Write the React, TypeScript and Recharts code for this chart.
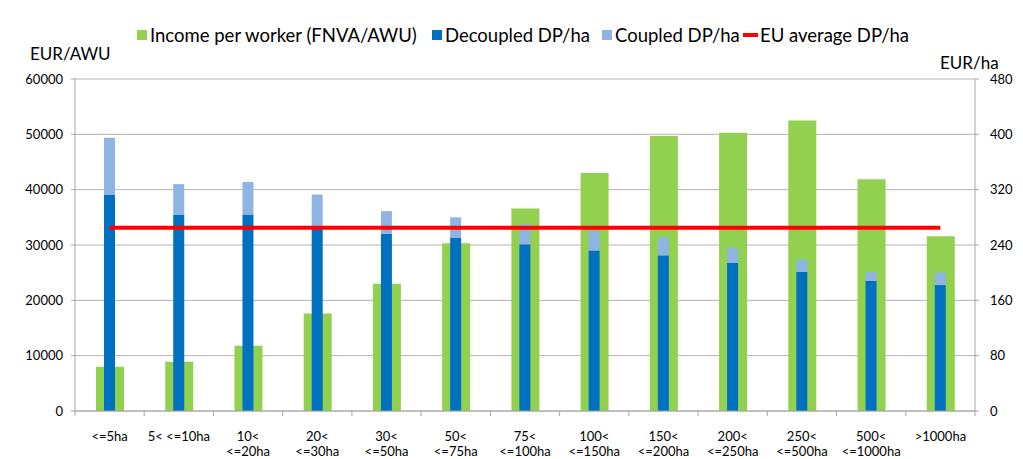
import React from 'react';
import { ComposedChart, Bar, Line, XAxis, YAxis, CartesianGrid } from 'recharts';

const categories = ['<=5ha', '5< <=10ha', '10<\n<=20ha', '20<\n<=30ha', '30<\n<=50ha', '50<\n<=75ha', '75<\n<=100ha', '100<\n<=150ha', '150<\n<=200ha', '200<\n<=250ha', '250<\n<=500ha', '500<\n<=1000ha', '>1000ha'];
const income = [8000, 8900, 11800, 17600, 23000, 30300, 36600, 43000, 49700, 50300, 52500, 41900, 31600];
const decoupled = [313, 284, 284, 263, 256, 251, 241, 232, 225, 214, 201, 188, 182];
const coupled = [82, 44, 47, 50, 33, 29, 29, 28, 26, 22, 18, 13, 18];
const euAverage = [265, 265, 265, 265, 265, 265, 265, 265, 265, 265, 265, 265, 265];
const leftTicks = [0, 10000, 20000, 30000, 40000, 50000, 60000];
const rightTicks = [0, 80, 160, 240, 320, 400, 480];

const legendItems = [
  { label: 'Income per worker (FNVA/AWU)', color: '#92D050', kind: 'box', left: 137 },
  { label: 'Decoupled DP/ha', color: '#0070C0', kind: 'box', left: 432 },
  { label: 'Coupled DP/ha', color: '#8DB4E2', kind: 'box', left: 602 },
  { label: 'EU average DP/ha', color: '#FF0000', kind: 'line', left: 743 },
];

const data = categories.map((c, i) => ({
  cat: c,
  income: income[i],
  decoupled: decoupled[i],
  coupled: coupled[i],
  eu: euAverage[i],
}));

const W = 1023;
const H = 459;
const LEFT_W = 75;
const RIGHT_W = 48;
const TOP = 79;
const XH = 48;
const BAND = (W - LEFT_W - RIGHT_W) / categories.length;
const FONT = 'Lato, "Open Sans", sans-serif';

const XTick = (props: any) => {
  const { x, y, payload, index } = props;
  const lines = String(payload.value).split('\n');
  return (
    <g transform={`translate(${x},${y})`}>
      <line x1={-BAND / 2} y1={0} x2={-BAND / 2} y2={5} stroke="#A6A6A6" />
      {index === categories.length - 1 && (
        <line x1={BAND / 2} y1={0} x2={BAND / 2} y2={5} stroke="#A6A6A6" />
      )}
      {lines.map((l, i) => (
        <text key={i} x={0} y={30 + i * 15} textAnchor="middle" fontSize={13} fill="#000" fontFamily={FONT}>
          {l}
        </text>
      ))}
    </g>
  );
};

export default function App() {
  return (
    <div style={{ position: 'absolute', left: 0, top: 0, width: W, height: H, background: '#fff', fontFamily: FONT }}>
      {legendItems.map((it) => (
        <div key={it.label} style={{ position: 'absolute', top: 24, left: it.left, display: 'flex', alignItems: 'center', fontSize: 18.5, color: '#000', whiteSpace: 'nowrap' }}>
          {it.kind === 'box' ? (
            <span style={{ display: 'inline-block', width: 10, height: 10, background: it.color, marginRight: 3 }} />
          ) : (
            <span style={{ display: 'inline-block', width: 15, height: 4, background: it.color, marginRight: 2 }} />
          )}
          <span>{it.label}</span>
        </div>
      ))}
      <div style={{ position: 'absolute', left: 30, top: 43, fontSize: 17, color: '#000' }}>EUR/AWU</div>
      <div style={{ position: 'absolute', left: 940, top: 52, fontSize: 17, color: '#000' }}>EUR/ha</div>
      <ComposedChart width={W} height={H} data={data} margin={{ top: TOP, right: 0, bottom: 0, left: 0 }}>
        <CartesianGrid vertical={false} stroke="#B3B3B3" xAxisId="a" yAxisId="left" />
        <XAxis xAxisId="a" dataKey="cat" height={XH} interval={0} tick={<XTick />} tickLine={false} tickSize={0} tickMargin={0} axisLine={{ stroke: '#A6A6A6' }} />
        <XAxis xAxisId="b" dataKey="cat" hide />
        <YAxis yAxisId="left" width={LEFT_W} domain={[0, 60000]} ticks={leftTicks} interval={0} tickSize={4} tickMargin={8} tick={{ fontSize: 13, fill: '#000', fontFamily: FONT }} axisLine={{ stroke: '#A6A6A6' }} tickLine={{ stroke: '#A6A6A6' }} />
        <YAxis yAxisId="right" orientation="right" width={RIGHT_W} domain={[0, 480]} ticks={rightTicks} interval={0} tickSize={4} tickMargin={11} tick={{ fontSize: 13, fill: '#000', fontFamily: FONT }} axisLine={{ stroke: '#A6A6A6' }} tickLine={{ stroke: '#A6A6A6' }} />
        <Bar xAxisId="a" yAxisId="left" dataKey="income" fill="#92D050" barSize={28} isAnimationActive={false} />
        <Bar xAxisId="b" yAxisId="right" dataKey="decoupled" stackId="dp" fill="#0070C0" barSize={11} isAnimationActive={false} />
        <Bar xAxisId="b" yAxisId="right" dataKey="coupled" stackId="dp" fill="#8DB4E2" barSize={11} isAnimationActive={false} />
        <Line xAxisId="a" yAxisId="right" dataKey="eu" stroke="#FF0000" strokeWidth={4} dot={false} activeDot={false} isAnimationActive={false} />
      </ComposedChart>
    </div>
  );
}
